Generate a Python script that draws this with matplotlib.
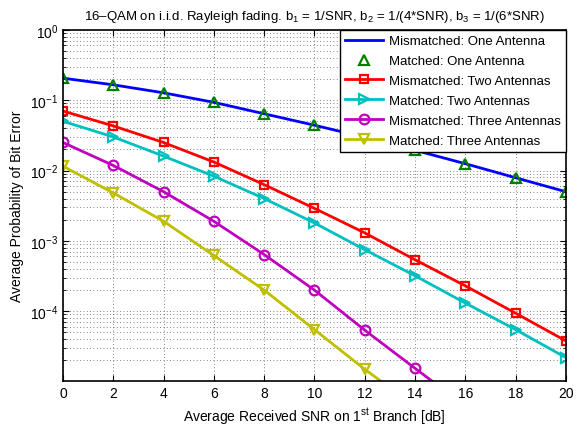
import numpy as np
import matplotlib
matplotlib.use("Agg")
import matplotlib.pyplot as plt
from matplotlib.ticker import LogLocator, NullFormatter

plt.rcParams["font.family"] = ["Liberation Sans", "DejaVu Sans"]
plt.rcParams["mathtext.fontset"] = "custom"
plt.rcParams["mathtext.rm"] = "Liberation Sans"
plt.rcParams["mathtext.it"] = "Liberation Sans:italic"
plt.rcParams["mathtext.default"] = "regular"

# SNR axis (dB)
snr_db = [0, 2, 4, 6, 8, 10, 12, 14, 16, 18, 20]

# values
mis_one = [0.205, 0.165, 0.127, 0.093, 0.064, 0.044, 0.0297, 0.0194, 0.0125, 0.0079, 0.0050]
mat_one = [0.205, 0.165, 0.127, 0.093, 0.064, 0.044, 0.0297, 0.0194, 0.0125, 0.0079, 0.0050]
mis_two = [0.070, 0.043, 0.025, 0.0132, 0.0063, 0.0029, 0.0013, 0.00054, 0.00023, 9.4e-5, 3.8e-5]
mat_two = [0.050, 0.030, 0.016, 0.0083, 0.0040, 0.0018, 0.00075, 0.00032, 0.000131, 5.5e-5, 2.2e-5]
mis_three = [0.025, 0.0118, 0.0050, 0.0019, 0.00064, 0.00020, 5.4e-5, 1.55e-5, 4.5e-6]
mat_three = [0.0115, 0.0048, 0.0019, 0.00062, 0.00020, 5.5e-5, 1.5e-5, 4.5e-6]

labels = [
    "Mismatched: One Antenna",
    "Matched: One Antenna",
    "Mismatched: Two Antennas",
    "Matched: Two Antennas",
    "Mismatched: Three Antennas",
    "Matched: Three Antennas",
]

fig = plt.figure(figsize=(5.86, 4.27), dpi=100)
ax = fig.add_axes([0.1075, 0.106, 0.858, 0.822])

lw = 2.0
ms = 7
mew = 1.6
ax.semilogy(snr_db, mis_one, "-", color=(0, 0, 1), lw=lw, label=labels[0])
ax.semilogy(snr_db, mat_one, "^", color=(0, 0.5, 0), ms=ms, mew=mew,
            mfc="none", linestyle="none", label=labels[1])
ax.semilogy(snr_db, mis_two, "-s", color=(1, 0, 0), lw=lw, ms=6, mew=mew,
            mfc="none", label=labels[2])
ax.semilogy(snr_db, mat_two, "->", color=(0, 0.75, 0.75), lw=lw, ms=ms, mew=mew,
            mfc="none", label=labels[3])
ax.semilogy(snr_db[:len(mis_three)], mis_three, "-o", color=(0.75, 0, 0.75), lw=lw,
            ms=ms, mew=mew, mfc="none", label=labels[4])
ax.semilogy(snr_db[:len(mat_three)], mat_three, "-v", color=(0.75, 0.75, 0), lw=lw,
            ms=ms, mew=mew, mfc="none", label=labels[5])

ax.set_xlim(0, 20)
ax.set_ylim(1.03e-5, 1)
ax.set_xticks(range(0, 21, 2))
ax.yaxis.set_major_locator(LogLocator(base=10, numticks=10))
ax.yaxis.set_minor_locator(LogLocator(base=10, subs=np.arange(2, 10), numticks=20))
ax.yaxis.set_minor_formatter(NullFormatter())

grid_style = dict(linestyle=(0, (1, 3)), color="0.35", linewidth=0.6)
ax.grid(True, which="major", **grid_style)
ax.grid(True, which="minor", axis="y", **grid_style)
ax.tick_params(which="both", direction="in", top=True, right=True, labelsize=10)
ax.tick_params(which="major", length=4)
ax.tick_params(which="minor", length=2)
for sp in ax.spines.values():
    sp.set_linewidth(1.2)

ax.set_xlabel("Average Received SNR on 1$^{st}$ Branch [dB]", fontsize=10)
ax.set_ylabel("Average Probability of Bit Error", fontsize=10)
ax.set_title("16\u2013QAM on i.i.d. Rayleigh fading. b$_1$ = 1/SNR, "
             "b$_2$ = 1/(4*SNR), b$_3$ = 1/(6*SNR)", fontsize=9.5, pad=8)

leg = ax.legend(loc="upper right", fontsize=9.5, fancybox=False, framealpha=1,
                edgecolor="black", borderaxespad=0, handlelength=2.9,
                handletextpad=0.4, labelspacing=0.58, borderpad=0.4)
leg.get_frame().set_linewidth(1.0)

fig.savefig("out.png", dpi=100)
